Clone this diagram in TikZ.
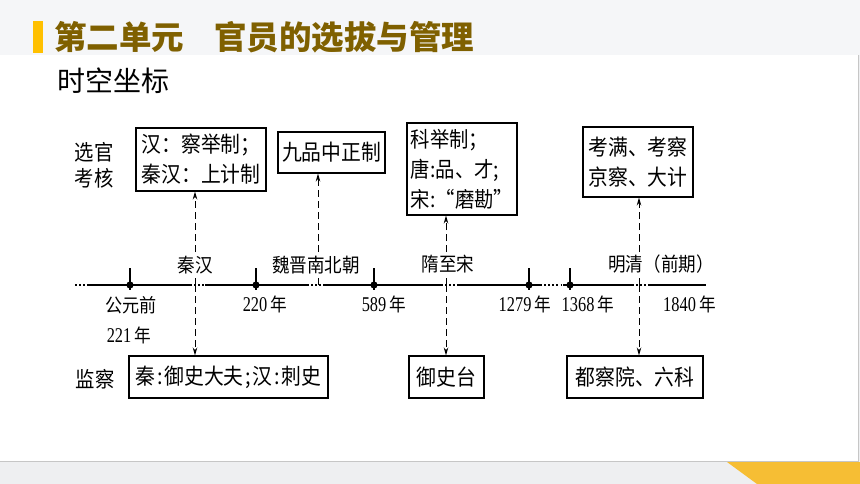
\documentclass[tikz,border=0pt]{standalone}
\usepackage{fontspec}
\setmainfont{Liberation Serif}
\newfontfamily\cjk[FakeStretch=0.9]{Noto Sans CJK SC}
\newfontfamily\cjkt{Noto Sans CJK SC}
\newfontfamily\numf[FakeStretch=0.78]{Liberation Serif}
\usetikzlibrary{arrows.meta}
\definecolor{titlec}{RGB}{127,96,0}
\definecolor{barc}{RGB}{255,192,0}
\definecolor{bandc}{RGB}{245,246,248}
\definecolor{lowc}{RGB}{238,239,241}
\definecolor{yelc}{RGB}{246,190,52}
\newcommand\yrtxt[1]{{\numf\fontsize{21}{22}\selectfont #1}\hspace{0.32em}{\cjk\fontsize{18.5}{20}\selectfont 年}}
\newcommand\pk[1]{\kern1.8pt#1\kern1.8pt}
\begin{document}
\begin{tikzpicture}[x=1pt,y=-1pt,
  box/.style={draw, line width=1.1pt, inner sep=0pt, align=left,
    font=\cjk\fontsize{22}{30}\selectfont},
  per/.style={fill=white, inner sep=1.5pt, font=\cjk\fontsize{19.5}{20}\selectfont},
  yrl/.style={inner sep=0pt},
  side/.style={inner sep=0pt, align=center, font=\cjk\fontsize{21.5}{26}\selectfont},
  dsh/.style={line width=0.9pt, dash pattern=on 7pt off 4pt,
    -{Stealth[length=8pt,width=4.5pt]}},
  axisl/.style={line width=1.5pt},
  dotl/.style={line width=1.5pt, dash pattern=on 1.5pt off 2.6pt},
  tickl/.style={line width=1.2pt}]
\useasboundingbox (0,0) rectangle (860,484);
% background
\fill[lowc] (0,0) rectangle (860,484);
\fill[bandc] (0,0) rectangle (860,55);
\fill[white] (0,55) rectangle (858,461);
\draw[gray!45, line width=0.8pt] (0,461) -- (858,461) -- (858,55);
\fill[yelc] (727,462) -- (860,462) -- (860,484) -- (757,484) -- cycle;
% header
\fill[barc] (33,21) rectangle (43,53);
\node[anchor=west, inner sep=0pt, text=titlec, font=\cjkt\bfseries\fontsize{32.5}{34}\selectfont] (title) at (54,37.5) {第二单元\hspace{0.92em}官员的选拔与管理};
\node[anchor=west, inner sep=0pt, font=\cjkt\fontsize{28}{30}\selectfont] (sub) at (57,81) {时空坐标};
% side labels
\node[side] (xg) at (94,165) {选官\\考核};
\node[side] (jc) at (95,379) {监察};
% top boxes
\node[box, minimum width=130pt, minimum height=63pt] (t1) at (201,159.5) {汉：察举制；\\秦汉：上计制};
\node[box, minimum width=107pt, minimum height=41pt] (t2) at (331.5,152.5) {九品中正制};
\node[box, minimum width=110pt, minimum height=92pt, font=\cjk\fontsize{21.5}{30}\selectfont] (t3) at (462,169) {科举制；\\唐:品、才;\\宋:“磨勘”};
\node[box, minimum width=110pt, minimum height=70pt] (t4) at (638,162) {考满、考察\\京察、大计};
% bottom boxes
\node[box, minimum width=199pt, minimum height=42pt] (b1) at (228.5,377) {秦\pk{:}御史大夫\pk{;}汉\pk{:}刺史};
\node[box, minimum width=75pt, minimum height=42pt] (b2) at (446.5,377) {御史台};
\node[box, minimum width=136pt, minimum height=42pt] (b3) at (635,377) {都察院、六科};
% axis
\draw[dotl] (75,285) -- (89,285);
\draw[axisl] (89,285) -- (190,285);
\draw[dotl] (190,285) -- (205,285);
\draw[axisl] (205,285) -- (307,285);
\draw[dotl] (307,285) -- (325,285);
\draw[axisl] (325,285) -- (441,285);
\draw[dotl] (441,285) -- (458,285);
\draw[axisl] (458,285) -- (540,285);
\draw[dotl] (540,285) -- (563,285);
\draw[axisl] (563,285) -- (632,285);
\draw[dotl] (632,285) -- (648,285);
\draw[axisl] (648,285) -- (706,285);
% ticks
\foreach \tx in {130,256,374,529,570}{
  \draw[tickl] (\tx,268) -- (\tx,290);
  \fill (\tx,285) circle (3.6pt);
}
% period points
\coordinate (p1) at (195,285);
\coordinate (p2) at (318,285);
\coordinate (p3) at (446,285);
\coordinate (p4) at (639,285);
% dashed arrows
\draw[dsh] (p1) -- (p1 |- t1.south);
\draw[dsh] (p1) -- (p1 |- b1.north);
\draw[dsh] (p2) -- (p2 |- t2.south);
\draw[dsh] (p3) -- (p3 |- t3.south);
\draw[dsh] (p3) -- (p3 |- b2.north);
\draw[dsh] (p4) -- (p4 |- t4.south);
\draw[dsh] (p4) -- (p4 |- b3.north);
% period labels
\node[per] (l1) at (195,265) {秦汉};
\node[per] (l2) at (316,265) {魏晋南北朝};
\node[per] (l3) at (448,264) {隋至宋};
\node[per] (l4) at (661,264) {明清（前期）};
% year labels
\node[yrl, font=\cjk\fontsize{19}{20}\selectfont] (y1a) at (131,305) {公元前};
\node[yrl] (y1b) at (129,335) {\yrtxt{221}};
\node[yrl] (y2) at (265,304) {\yrtxt{220}};
\node[yrl] (y3) at (384,304) {\yrtxt{589}};
\node[yrl] (y4) at (525,304) {\yrtxt{1279}};
\node[yrl] (y5) at (588,304) {\yrtxt{1368}};
\node[yrl] (y6) at (689.5,304) {\yrtxt{1840}};
\end{tikzpicture}
\end{document}
